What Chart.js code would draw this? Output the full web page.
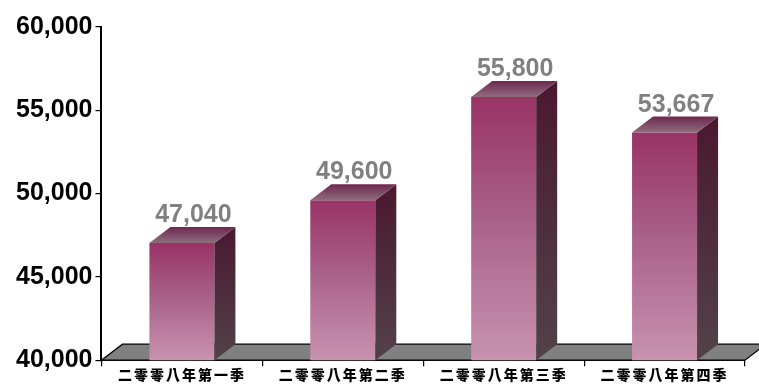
<!DOCTYPE html>
<html>
<head>
<meta charset="utf-8">
<script src="https://cdn.jsdelivr.net/npm/chart.js@4/dist/chart.umd.min.js"></script>
<style>
  html, body { margin: 0; padding: 0; background: #fff; }
  #wrap { width: 759px; height: 387px; }
</style>
</head>
<body>
<div id="wrap"><canvas id="chart"></canvas></div>
<script>
var quarters = ['二零零八年第一季', '二零零八年第二季', '二零零八年第三季', '二零零八年第四季'];
var values = [47040, 49600, 55800, 53667];
var yMin = 40000;
var yMax = 60000;
var yStep = 5000;

var DX = 21, DY = 16; // 3d depth

function frontFill(c) {
    var chart = c.chart;
    var y = chart.scales && chart.scales.y;
    if (!y || !chart.chartArea || c.parsed == null) return '#b07090';
    var top = y.getPixelForValue(c.parsed.y);
    var g = chart.ctx.createLinearGradient(0, top, 0, y.bottom);
    g.addColorStop(0, '#993366');
    g.addColorStop(0.45, '#a86088');
    g.addColorStop(1, '#c892b0');
    return g;
}

var threeD = {
    id: 'threeD',
    beforeDraw: function (chart) {
        // spaced category labels
        var xs = chart.scales.x;
        if (xs && !xs._spaced) {
            var orig = xs.drawLabels;
            xs.drawLabels = function (area) {
                chart.ctx.letterSpacing = '2px';
                orig.call(this, area);
                chart.ctx.letterSpacing = '0px';
            };
            xs._spaced = true;
        }
    },
    beforeDatasetsDraw: function (chart) {
        var ctx = chart.ctx, x = chart.scales.x, y = chart.scales.y;
        var b = y.bottom;
        ctx.save();
        ctx.beginPath();
        ctx.moveTo(x.left, b);
        ctx.lineTo(x.right, b);
        ctx.lineTo(x.right + DX, b - DY);
        ctx.lineTo(x.left + DX, b - DY);
        ctx.closePath();
        ctx.fillStyle = '#808080';
        ctx.fill();
        ctx.strokeStyle = '#000';
        ctx.lineWidth = 1.2;
        ctx.stroke();
        ctx.restore();
    },
    afterDatasetsDraw: function (chart) {
        var ctx = chart.ctx;
        var meta = chart.getDatasetMeta(0);
        var yb = chart.scales.y.bottom;
        ctx.save();
        meta.data.forEach(function (bar, i) {
            var l = bar.x - bar.width / 2, r = bar.x + bar.width / 2;
            var t = bar.y, bt = Math.min(bar.base, yb);
            // side face
            var gs = ctx.createLinearGradient(0, t - DY, 0, bt);
            gs.addColorStop(0, '#4a1830');
            gs.addColorStop(1, '#52424a');
            ctx.beginPath();
            ctx.moveTo(r, t);
            ctx.lineTo(r + DX, t - DY);
            ctx.lineTo(r + DX, bt - DY);
            ctx.lineTo(r, bt);
            ctx.closePath();
            ctx.fillStyle = gs;
            ctx.fill();
            // top face
            var gt = ctx.createLinearGradient(0, t - DY, 0, t);
            gt.addColorStop(0, '#6e2850');
            gt.addColorStop(1, '#8e6c7c');
            ctx.beginPath();
            ctx.moveTo(l, t);
            ctx.lineTo(l + DX, t - DY);
            ctx.lineTo(r + DX, t - DY);
            ctx.lineTo(r, t);
            ctx.closePath();
            ctx.fillStyle = gt;
            ctx.fill();
            // value label
            ctx.font = 'bold 25px "Liberation Sans", Arial, sans-serif';
            ctx.fillStyle = '#808080';
            ctx.textAlign = 'center';
            ctx.textBaseline = 'alphabetic';
            ctx.fillText(values[i].toLocaleString('en-US'), bar.x + DX / 2 + 1, t - DY - 5);
        });
        ctx.restore();
    }
};

new Chart(document.getElementById('chart'), {
    type: 'bar',
    data: {
        labels: quarters,
        datasets: [{
            data: values,
            backgroundColor: frontFill,
            borderWidth: 0,
            categoryPercentage: 1,
            barPercentage: 0.404
        }]
    },
    options: {
        responsive: true,
        maintainAspectRatio: false,
        animation: false,
        layout: { padding: { top: 27, right: 14, left: 13, bottom: 4 } },
        plugins: {
            legend: { display: false },
            tooltip: { enabled: false }
        },
        scales: {
            x: {
                grid: { drawOnChartArea: false, drawTicks: true, tickLength: 6, color: '#000', lineWidth: 1.2 },
                border: { color: '#000', width: 2 },
                ticks: {
                    color: '#000',
                    padding: 0,
                    font: { family: '"Noto Sans CJK TC"', size: 14, weight: '900' }
                }
            },
            y: {
                min: yMin,
                max: yMax,
                grid: { drawOnChartArea: false, tickLength: 6, color: '#000', lineWidth: 1.2 },
                border: { color: '#000', width: 2 },
                ticks: {
                    stepSize: yStep,
                    color: '#000',
                    padding: 3,
                    font: { family: '"Liberation Sans", Arial, sans-serif', size: 25, weight: 'bold' }
                }
            }
        }
    },
    plugins: [threeD]
});
</script>
</body>
</html>
